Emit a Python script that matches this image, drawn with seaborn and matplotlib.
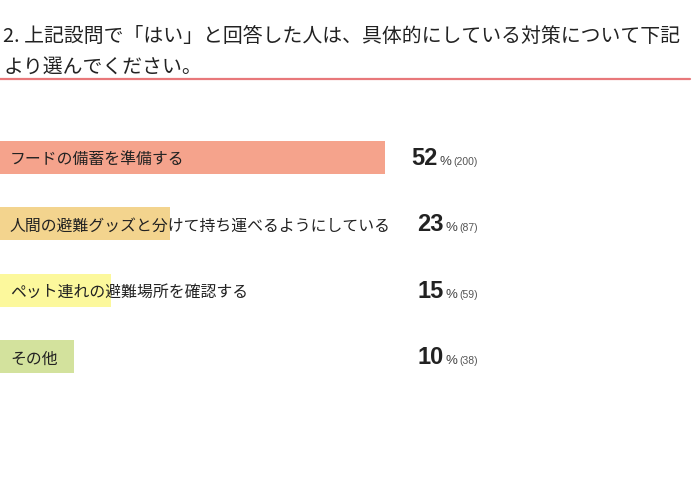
import matplotlib
matplotlib.use('Agg')
import matplotlib.pyplot as plt
import seaborn as sns
import pandas as pd
from matplotlib.offsetbox import TextArea, HPacker, AnnotationBbox
from matplotlib.lines import Line2D
import matplotlib.transforms as mtransforms

# data
labels = ['フードの備蓄を準備する',
          '人間の避難グッズと分けて持ち運べるようにしている',
          'ペット連れの避難場所を確認する',
          'その他']
percents = [52, 23, 15, 10]
counts = [200, 87, 59, 38]
colors = ['#f5a38c', '#f3d48e', '#fcf89c', '#d3e29d']
title_lines = ['2. 上記設問で「はい」と回答した人は、具体的にしている対策について下記',
               'より選んでください。']

df = pd.DataFrame({'label': labels, 'percent': percents})

sns.set_style('white')
plt.rcParams['font.family'] = ['Noto Sans CJK JP', 'DejaVu Sans']

W, H = 700, 485
fig = plt.figure(figsize=(7, 4.85), dpi=100)
ax = fig.add_axes([0, 1 - 391 / H, 1, 266 / H])

sns.barplot(data=df, x='percent', y='label', hue='label', palette=colors,
            dodge=False, legend=False, width=0.5, ax=ax, saturation=1,
            linewidth=0)
ax.set_xlim(0, 94.6)
ax.set_ylim(3.5, -0.5)
ax.axis('off')

trans = mtransforms.blended_transform_factory(fig.transFigure, ax.transData)
for i, (lab, p, c) in enumerate(zip(labels, percents, counts)):
    ax.text(10 / W, i + 0.02, lab, transform=trans, ha='left', va='center',
            fontsize=11.4, color='#222222')
    big = TextArea(f'{p}', textprops=dict(fontsize=17, color='#222222',
                                          family='Liberation Sans', fontweight='bold'))
    pct = TextArea('%', textprops=dict(fontsize=9.5, color='#444444',
                                       family='Liberation Sans'))
    cnt = TextArea(f'({c})', textprops=dict(fontsize=7.5, color='#555555',
                                            family='Liberation Sans'))
    pack = HPacker(children=[big, pct, cnt], align='baseline', pad=0, sep=1.5)
    ab = AnnotationBbox(pack, (478 / W, i), xycoords=trans,
                        box_alignment=(1, 0.5), frameon=False, pad=0)
    ax.add_artist(ab)

# title and underline
fig.text(3 / W, 1 - 36 / H, title_lines[0], fontsize=14.3, color='#222222',
         ha='left', va='center')
fig.text(3 / W, 1 - 67 / H, title_lines[1], fontsize=14.3, color='#222222',
         ha='left', va='center')
fig.add_artist(Line2D([0, 690 / W], [1 - 80 / H, 1 - 80 / H],
                      transform=fig.transFigure, color='#e8787a', lw=1.6))

fig.savefig('out.png', dpi=100, facecolor='white')
